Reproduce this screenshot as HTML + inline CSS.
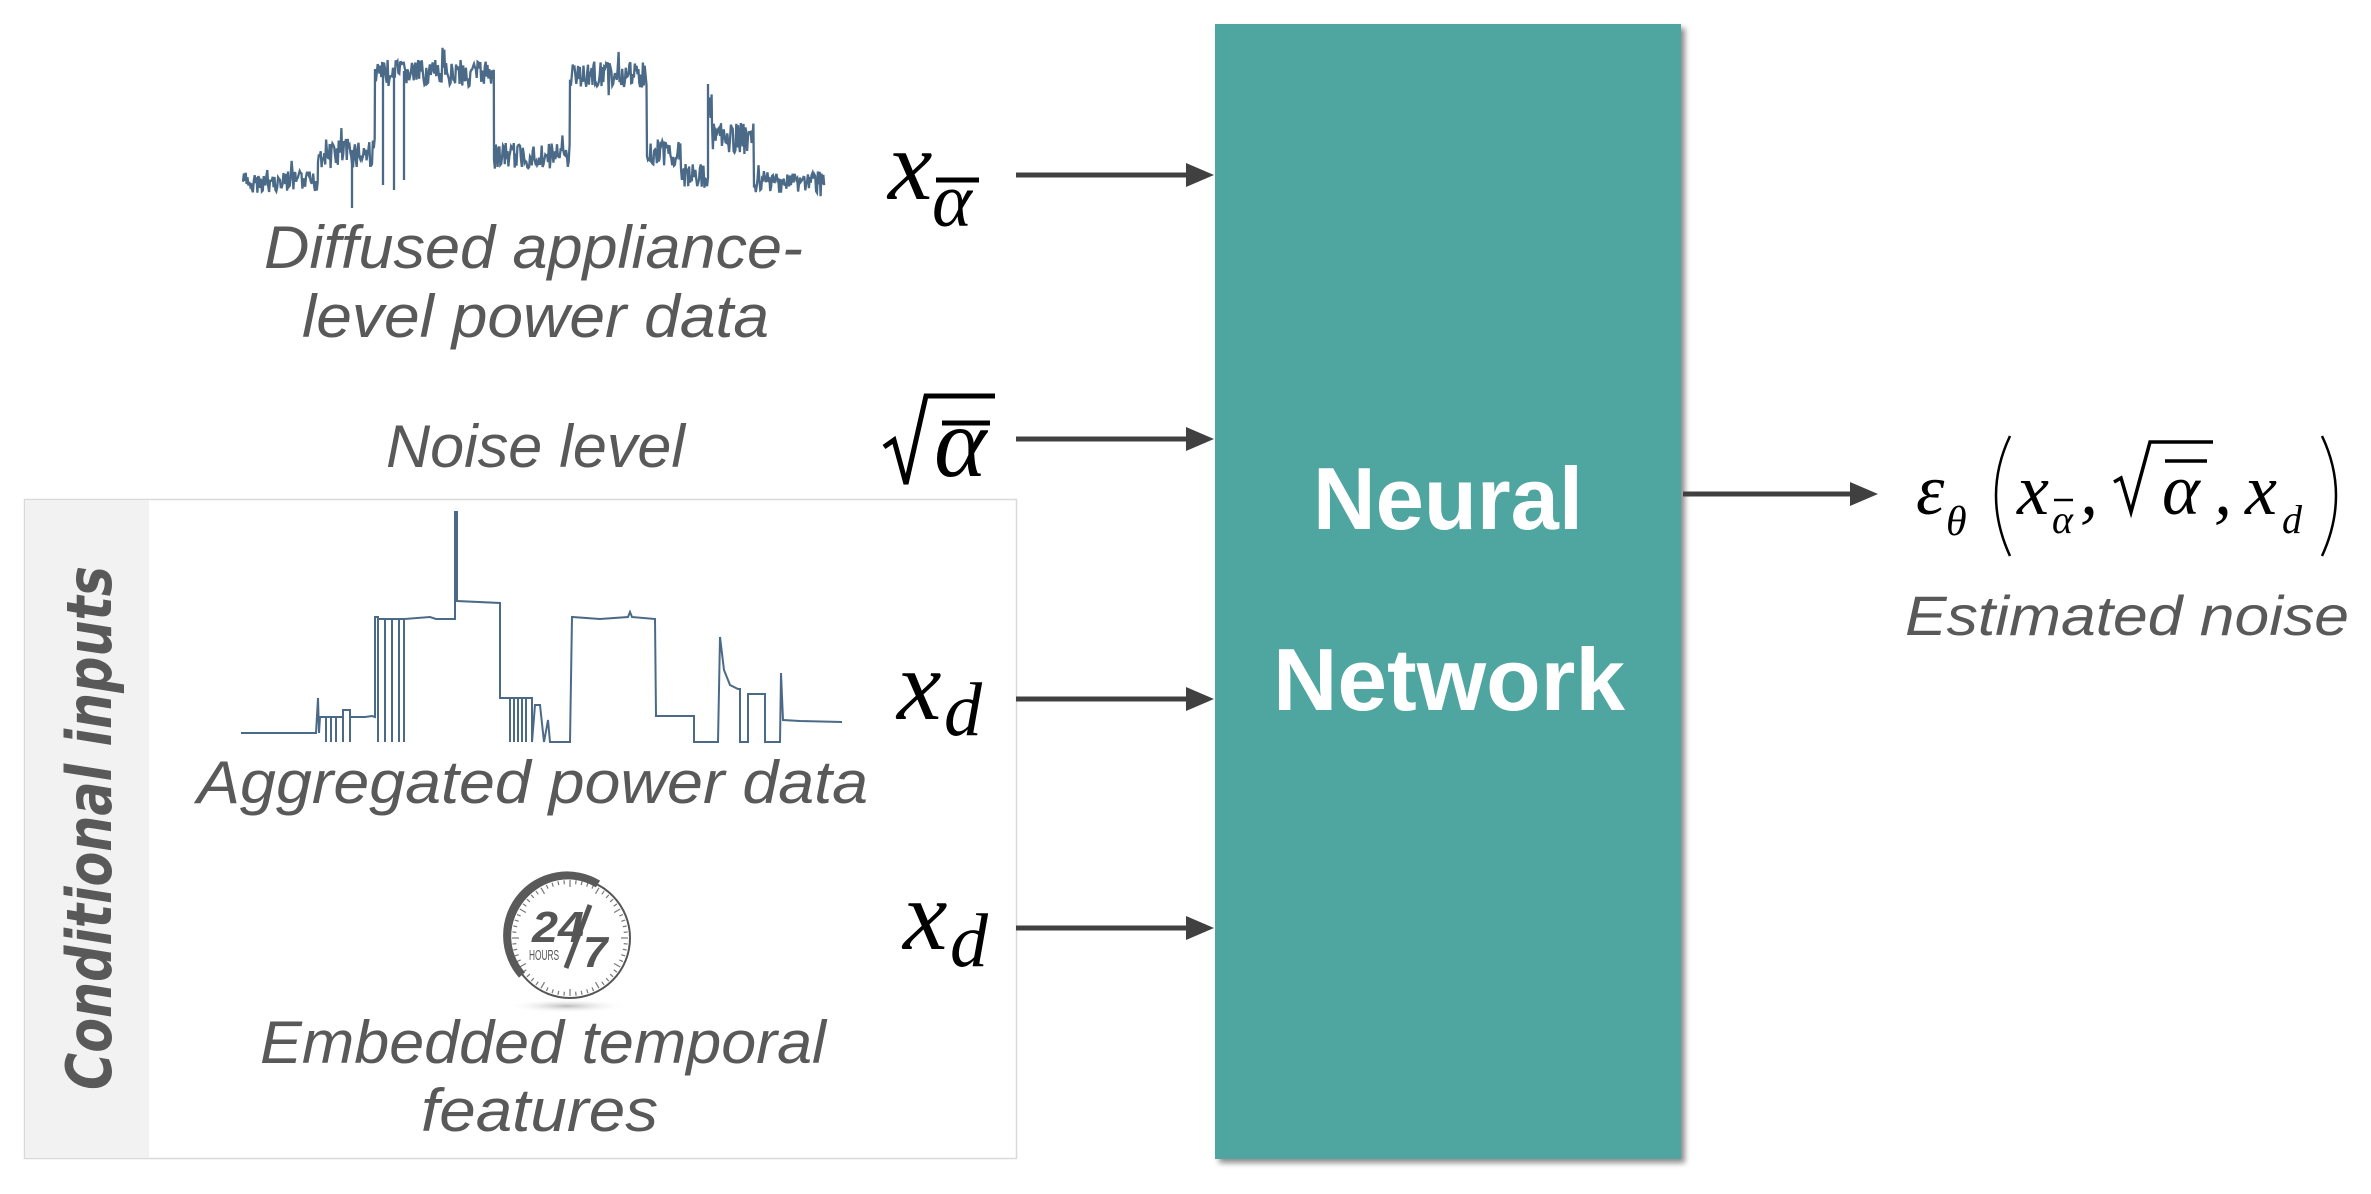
<!DOCTYPE html>
<html><head><meta charset="utf-8"><style>
html,body{margin:0;padding:0;background:#fff;}
svg{display:block;}
.lbl{font-family:"Liberation Sans",sans-serif;font-style:italic;fill:#595959;}
</style></head><body>
<svg id="s" width="2371" height="1194" viewBox="0 0 2371 1194" xmlns="http://www.w3.org/2000/svg">
<defs>
<filter id="sh" x="-5%" y="-5%" width="115%" height="115%"><feGaussianBlur in="SourceAlpha" stdDeviation="3"/><feOffset dx="4" dy="4"/><feComponentTransfer><feFuncA type="linear" slope="0.45"/></feComponentTransfer><feMerge><feMergeNode/><feMergeNode in="SourceGraphic"/></feMerge></filter>
<radialGradient id="cs" cx="0.5" cy="0.5" r="0.5"><stop offset="0" stop-color="#bbb"/><stop offset="1" stop-color="#fff" stop-opacity="0"/></radialGradient>
</defs>

<rect x="24.5" y="499.5" width="992" height="659" fill="#fff" stroke="#d9d9d9" stroke-width="1.5"/>
<rect x="25" y="500" width="124" height="658" fill="#f2f2f2"/>
<text transform="translate(111,828) rotate(-90)" text-anchor="middle" font-family="'DejaVu Sans',sans-serif" font-weight="bold" font-style="italic" font-size="62" fill="#595959" textLength="524" lengthAdjust="spacingAndGlyphs">Conditional inputs</text>

<rect x="1215" y="24" width="466" height="1135" fill="#4fa59f" filter="url(#sh)"/>
<text x="1448" y="529" text-anchor="middle" font-family="'Liberation Sans',sans-serif" font-weight="bold" font-size="88" fill="#fff" textLength="270" lengthAdjust="spacingAndGlyphs">Neural</text>
<text x="1449" y="710" text-anchor="middle" font-family="'Liberation Sans',sans-serif" font-weight="bold" font-size="88" fill="#fff" textLength="352" lengthAdjust="spacingAndGlyphs">Network</text>

<g stroke="#404040" stroke-width="5" fill="#404040">
<line x1="1016" y1="175" x2="1190" y2="175"/><polygon stroke="none" points="1214,175 1186,163 1186,187"/>
<line x1="1016" y1="439" x2="1190" y2="439"/><polygon stroke="none" points="1214,439 1186,427 1186,451"/>
<line x1="1016" y1="699" x2="1190" y2="699"/><polygon stroke="none" points="1214,699 1186,687 1186,711"/>
<line x1="1016" y1="928" x2="1190" y2="928"/><polygon stroke="none" points="1214,928 1186,916 1186,940"/>
<line x1="1683" y1="494" x2="1852" y2="494"/><polygon stroke="none" points="1878,494 1850,482 1850,506"/>
</g>

<g font-family="'Liberation Serif','DejaVu Serif',serif" font-style="italic" fill="#000">
<text x="888" y="199" font-size="100">x</text>
<text x="932" y="226" font-size="76">α</text>
<line x1="936" y1="180" x2="979" y2="180" stroke="#000" stroke-width="5"/>

<path d="M884,447 L894,440 L906,484 L926,396 L995,396" fill="none" stroke="#000" stroke-width="5"/>
<text x="934" y="476" font-size="100">α</text>
<line x1="942" y1="423" x2="990" y2="423" stroke="#000" stroke-width="5"/>

<text x="897" y="719" font-size="100">x</text>
<text x="944" y="735" font-size="76">d</text>
<text x="903" y="949" font-size="100">x</text>
<text x="950" y="966" font-size="76">d</text>

<text x="1916" y="514" font-size="72">ε</text>
<text x="1946" y="535" font-size="42">θ</text>
<text x="2017" y="514" font-size="72">x</text>
<text x="2052" y="533" font-size="40">α</text>
<text x="2080" y="514" font-size="72">,</text>
<text x="2162" y="514" font-size="72">α</text>
<text x="2214" y="514" font-size="72">,</text>
<text x="2245" y="514" font-size="72">x</text>
<text x="2282" y="533" font-size="40">d</text>
</g>
<path d="M2010,436 Q1982,495 2010,556" fill="none" stroke="#000" stroke-width="2.5"/>
<line x1="2054" y1="500" x2="2073" y2="500" stroke="#000" stroke-width="2.5"/>
<path d="M2114,482 L2121,478 L2131,512 L2150,442 L2213,442" fill="none" stroke="#000" stroke-width="3.5"/>
<line x1="2165" y1="461" x2="2207" y2="461" stroke="#000" stroke-width="3.5"/>
<path d="M2322,436 Q2350,495 2322,556" fill="none" stroke="#000" stroke-width="2.5"/>
<text class="lbl" x="1905" y="635" font-size="56" textLength="444" lengthAdjust="spacingAndGlyphs">Estimated noise</text>

<text class="lbl" x="264" y="268" font-size="60" textLength="539" lengthAdjust="spacingAndGlyphs">Diffused appliance-</text>
<text class="lbl" x="302" y="337" font-size="60" textLength="467" lengthAdjust="spacingAndGlyphs">level power data</text>
<text class="lbl" x="386" y="467" font-size="60" textLength="299" lengthAdjust="spacingAndGlyphs">Noise level</text>
<text class="lbl" x="197" y="803" font-size="60" textLength="671" lengthAdjust="spacingAndGlyphs">Aggregated power data</text>
<text class="lbl" x="260" y="1063" font-size="60" textLength="566" lengthAdjust="spacingAndGlyphs">Embedded temporal</text>
<text class="lbl" x="421" y="1131" font-size="60" textLength="237" lengthAdjust="spacingAndGlyphs">features</text>

<path fill="none" stroke="#4a6a88" stroke-width="2" d="M241,733 L316,733 L318,698 L319,733 L320,717 L326,717 L326,742 L326,717 L331,717 L331,742 L331,717 L336,717 L336,742 L336,717 L343,717 L343,742 L343,710 L350,710 L350,742 L350,717 L365,717 L372,716 L375,717 L375,617 L378,617 L378,742 L378,619 L385,619 L385,742 L385,619 L392,619 L392,742 L392,619 L399,619 L399,742 L399,619 L404,619 L404,742 L404,619 L430,617 L436,619 L453,619 L455,619 L455,512 L457,512 L457,601 L500,603 L500,698 L510,698 L510,742 L510,698 L514,698 L514,742 L514,698 L518,698 L518,742 L518,698 L522,698 L522,742 L522,698 L526,698 L526,742 L526,698 L532,698 L532,742 L535,705 L540,705 L544,742 L548,720 L550,742 L562,742 L565,742 L568,742 L570,742 L572,617 L600,619 L628,617 L630,612 L632,617 L655,619 L656,716 L690,716 L694,716 L694,742 L718,742 L720,637 L724,670 L730,685 L738,689 L740,689 L740,742 L748,742 L748,694 L765,694 L765,742 L780,742 L781,673 L783,720 L800,721 L842,722"/>

<ellipse cx="567" cy="1006" rx="60" ry="7" fill="url(#cs)"/>
<circle cx="570" cy="938" r="60" fill="#fff" stroke="#555" stroke-width="2"/>
<g id="ticks" stroke="#777" stroke-width="1.2"></g>
<path d="M522,975 A60,60 0 0 1 598,884" fill="none" stroke="#5a5a5a" stroke-width="8"/>
<text x="532" y="942" font-family="'Liberation Sans',sans-serif" font-weight="bold" font-style="italic" font-size="44" fill="#555" textLength="52" lengthAdjust="spacingAndGlyphs">24</text>
<text x="529" y="960" font-family="'Liberation Sans',sans-serif" font-size="15" fill="#555" textLength="30" lengthAdjust="spacingAndGlyphs">HOURS</text>
<line x1="566" y1="968" x2="590" y2="905" stroke="#555" stroke-width="5"/>
<text x="583" y="967" font-family="'Liberation Sans',sans-serif" font-weight="bold" font-style="italic" font-size="44" fill="#555">7</text>

<path id="dif" fill="none" stroke="#4a6a88" stroke-width="2.3" d=""/>
</svg>
<script>
(function(){
var seed=7;function r(){seed=(seed*9301+49297)%233280;return seed/233280;}
var segs=[[243,318,182,11],[318,375,153,15],[375,494,73,13],[494,570,156,13],[570,647,75,13],[647,681,153,13],[681,708,176,12],[708,712,110,20],[712,754,138,15],[754,825,182,11]];
var d="";var first=true;
segs.forEach(function(s){for(var x=s[0];x<s[1];x+=0.9){var y=s[2]+(r()-0.5)*2*s[3];if(r()<0.06)y+=(r()-0.5)*s[3]*3;d+=(first?"M":"L")+x.toFixed(1)+","+y.toFixed(1)+" ";first=false;}});
d+=" M383,71 L383,185 M394,71 L394,190 M404,71 L404,180 M708,176 L708,84 M352,150 L352,208";
document.getElementById('dif').setAttribute('d',d);
var g=document.getElementById('ticks'),ns="http://www.w3.org/2000/svg";
for(var i=0;i<60;i++){var a=i*6*Math.PI/180,L=(i%5==0)?7:4;var l=document.createElementNS(ns,'line');
l.setAttribute('x1',570+Math.cos(a)*58);l.setAttribute('y1',938+Math.sin(a)*58);
l.setAttribute('x2',570+Math.cos(a)*(58-L));l.setAttribute('y2',938+Math.sin(a)*(58-L));g.appendChild(l);}
})();
</script>
</body></html>
